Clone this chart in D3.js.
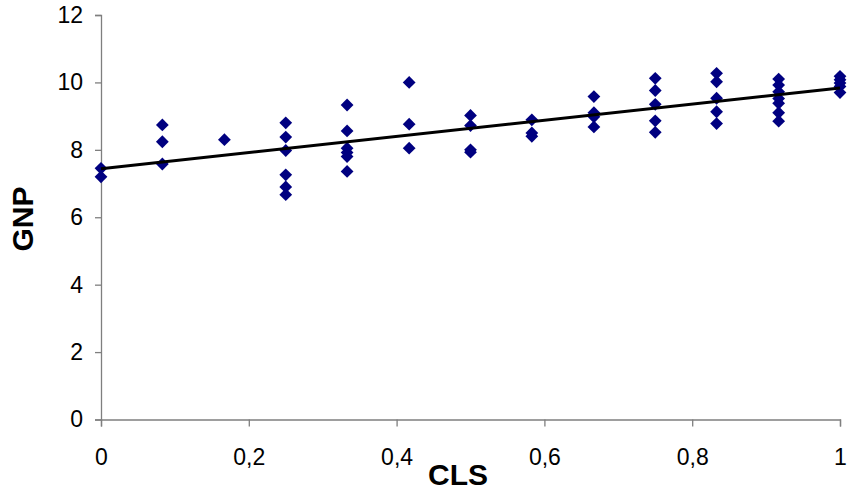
<!DOCTYPE html>
<html>
<head>
<meta charset="utf-8">
<script src="https://cdn.jsdelivr.net/npm/d3@7"></script>
<style>
  body { margin: 0; background: #fff; }
  text { font-family: "Liberation Sans", Arial, sans-serif; }
</style>
</head>
<body>
<script>
// CLS (x) and GNP (y), one entry per point
const cls = [
  0, 0,
  0.083, 0.083, 0.083,
  0.167,
  0.25, 0.25, 0.25, 0.25, 0.25, 0.25,
  0.333, 0.333, 0.333, 0.333, 0.333, 0.333,
  0.417, 0.417, 0.417,
  0.5, 0.5, 0.5, 0.5,
  0.583, 0.583, 0.583,
  0.667, 0.667, 0.667, 0.667,
  0.75, 0.75, 0.75, 0.75, 0.75,
  0.833, 0.833, 0.833, 0.833, 0.833,
  0.917, 0.917, 0.917, 0.917, 0.917, 0.917, 0.917,
  1, 1, 1, 1, 1
];
const gnp = [
  7.45, 7.2,
  8.74, 8.24, 7.58,
  8.3,
  8.8, 8.38, 7.98, 7.26, 6.9, 6.67,
  9.33, 8.56, 8.05, 7.92, 7.8, 7.36,
  10.0, 8.76, 8.05,
  9.02, 8.72, 8.0, 7.93,
  8.89, 8.5, 8.4,
  9.58, 9.1, 8.98, 8.68,
  10.12, 9.76, 9.35, 8.86, 8.52,
  10.27, 10.02, 9.53, 9.13, 8.78,
  10.1, 9.92, 9.72, 9.52, 9.38, 9.1, 8.85,
  10.18, 10.08, 9.98, 9.88, 9.7
];
const xTicks = [0, 0.2, 0.4, 0.6, 0.8, 1];
const yTicks = [0, 2, 4, 6, 8, 10, 12];

const width = 848, height = 490;
const margin = {top: 15, right: 8, bottom: 70.5, left: 101};

const svg = d3.select("body").append("svg")
  .attr("width", width)
  .attr("height", height);

const x = d3.scaleLinear().domain([0, 1]).range([margin.left, width - margin.right]);
const y = d3.scaleLinear().domain([0, 12]).range([height - margin.bottom, margin.top]);

const axisColor = "#7f7f7f";

// x axis
svg.append("g")
  .attr("transform", `translate(0,${y(0)})`)
  .call(d3.axisBottom(x).tickValues(xTicks).tickSize(7).tickPadding(22)
    .tickFormat(d => d3.format("")(d).replace(".", ",")))
  .call(g => g.select(".domain").attr("stroke", axisColor).attr("stroke-width", 1.3))
  .call(g => g.selectAll(".tick line").attr("stroke", axisColor).attr("stroke-width", 1.3))
  .call(g => g.selectAll(".tick text").attr("fill", "#000")
    .style("font-size", "23px").style("font-family", "Liberation Sans, Arial, sans-serif"));

// y axis
svg.append("g")
  .attr("transform", `translate(${x(0)},0)`)
  .call(d3.axisLeft(y).tickValues(yTicks).tickSize(6).tickPadding(12))
  .call(g => g.select(".domain").attr("stroke", axisColor).attr("stroke-width", 1.3))
  .call(g => g.selectAll(".tick line").attr("stroke", axisColor).attr("stroke-width", 1.3))
  .call(g => g.selectAll(".tick text").attr("fill", "#000")
    .style("font-size", "23px").style("font-family", "Liberation Sans, Arial, sans-serif"));

// linear trend line (least squares)
const n = cls.length;
const mx = d3.mean(cls), my = d3.mean(gnp);
let sxy = 0, sxx = 0;
for (let i = 0; i < n; i++) {
  sxy += (cls[i] - mx) * (gnp[i] - my);
  sxx += (cls[i] - mx) * (cls[i] - mx);
}
const slope = sxy / sxx, intercept = my - slope * mx;
const trend = [0, 1].map(v => ({cx: v, gy: intercept + slope * v}));

// points
const diamond = d3.symbol().type(d3.symbolDiamond2).size(104);
svg.append("g")
  .selectAll("path")
  .data(cls.map((c, i) => ({c, g: gnp[i]})))
  .join("path")
  .attr("transform", d => `translate(${x(d.c)},${y(d.g)})`)
  .attr("d", diamond)
  .attr("fill", "#000080");

svg.append("path")
  .datum(trend)
  .attr("fill", "none")
  .attr("stroke", "#000")
  .attr("stroke-width", 3)
  .attr("d", d3.line().x(d => x(d.cx)).y(d => y(d.gy)));

// axis titles
svg.append("text")
  .attr("x", 458)
  .attr("y", 485)
  .attr("text-anchor", "middle")
  .style("font-size", "30px")
  .style("font-weight", "bold")
  .text("CLS");

svg.append("text")
  .attr("transform", "translate(33,219) rotate(-90)")
  .attr("text-anchor", "middle")
  .style("font-size", "30px")
  .style("font-weight", "bold")
  .text("GNP");
</script>
</body>
</html>
